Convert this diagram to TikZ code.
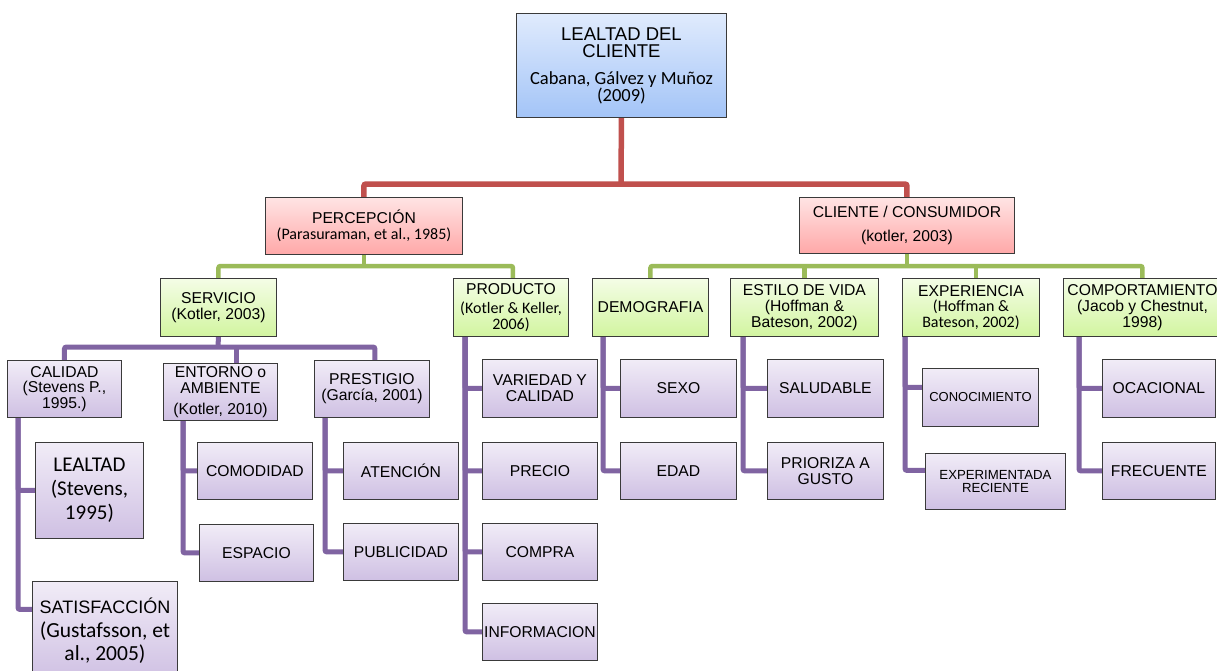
\documentclass[tikz,border=0pt]{standalone}
\usepackage{fontspec}
\setmainfont{Liberation Sans}
\newfontfamily\calib{Carlito}
\pgfdeclarelayer{bg}
\pgfsetlayers{bg,main}
\definecolor{bord}{HTML}{3A3A3A}
\definecolor{bluT}{HTML}{E0EBFD}
\definecolor{bluB}{HTML}{A3C4F7}
\definecolor{pinkT}{HTML}{FFE4E4}
\definecolor{pinkB}{HTML}{FFA8A8}
\definecolor{grnT}{HTML}{F4FDE6}
\definecolor{grnB}{HTML}{D2F5A0}
\definecolor{purT}{HTML}{F1ECF7}
\definecolor{purB}{HTML}{CFC0E3}
\definecolor{lred}{HTML}{C0504D}
\definecolor{lgrn}{HTML}{9BBB59}
\definecolor{lpur}{HTML}{8064A2}
\tikzset{
  bx/.style={draw=bord, line width=0.9pt, anchor=north west, inner sep=0pt, align=center,
    font=\fontsize{15.7}{15.7}\selectfont},
  bluebox/.style={bx, top color=bluT, bottom color=bluB},
  redbox/.style={bx, top color=pinkT, bottom color=pinkB},
  grnbox/.style={bx, top color=grnT, bottom color=grnB},
  purbox/.style={bx, top color=purT, bottom color=purB},
  redl/.style={draw=lred, line width=5.5pt, rounded corners=2pt},
  grnl/.style={draw=lgrn, line width=4.5pt, rounded corners=2pt},
  purl/.style={draw=lpur, line width=5pt, rounded corners=2pt},
}
\newcommand\cit[1]{{\calib\fontsize{16}{16}\selectfont #1}}
\begin{document}
\begin{tikzpicture}[x=1pt,y=-1pt]
\useasboundingbox (0,0) rectangle (1217,670);

% level 0
\node[bluebox, minimum width=210, minimum height=104, font=\fontsize{18.5}{17}\selectfont] (root) at (516,13)
  {LEALTAD DEL\\CLIENTE\\[10pt]{\calib\fontsize{18.5}{19}\selectfont Cabana, Gálvez y Muñoz}\\{\calib\fontsize{18.5}{19}\selectfont (2009)}};

% level 1
\node[redbox, minimum width=197, minimum height=57] (perc) at (265,197)
  {PERCEPCIÓN\\\cit{(Parasuraman, et al., 1985)}};
\node[redbox, minimum width=215, minimum height=56] (cli) at (799,197)
  {CLIENTE / CONSUMIDOR\\[9pt](kotler, 2003)};

% level 2
\node[grnbox, minimum width=116, minimum height=58] (serv) at (160,278) {SERVICIO\\(Kotler, 2003)};
\node[grnbox, minimum width=115, minimum height=58] (prod) at (453,278)
  {PRODUCTO\\[3pt]\cit{(Kotler \& Keller,}\\\cit{2006)}};
\node[grnbox, minimum width=116, minimum height=58] (demo) at (592,278) {DEMOGRAFIA};
\node[grnbox, minimum width=148, minimum height=58] (est) at (730,278) {ESTILO DE VIDA\\(Hoffman \&\\Bateson, 2002)};
\node[grnbox, minimum width=137, minimum height=58] (exp) at (902,278)
  {EXPERIENCIA\\\cit{(Hoffman \&}\\\cit{Bateson, 2002)}};
\node[grnbox, minimum width=158, minimum height=58] (comp) at (1063,278) {COMPORTAMIENTO\\(Jacob y Chestnut,\\1998)};

% level 3 - servicio
\node[purbox, minimum width=114, minimum height=57] (cal) at (7,360) {CALIDAD\\(Stevens P.,\\1995.)};
\node[purbox, minimum width=114, minimum height=57] (ent) at (163,363) {ENTORNO o\\AMBIENTE\\[5pt](Kotler, 2010)};
\node[purbox, minimum width=115, minimum height=57] (pres) at (314,360) {PRESTIGIO\\(García, 2001)};

\node[purbox, minimum width=108, minimum height=96, font=\calib\fontsize{21}{24}\selectfont] (lea) at (35,442)
  {LEALTAD\\(Stevens,\\1995)};
\node[purbox, minimum width=145, minimum height=99, font=\calib\fontsize{21.5}{23.5}\selectfont] (sat) at (32,581)
  {{\fontspec{Liberation Sans}\fontsize{18}{23.5}\selectfont SATISFACCIÓN}\\(Gustafsson, et\\al., 2005)};
\node[purbox, minimum width=115, minimum height=57] (com) at (197,442) {COMODIDAD};
\node[purbox, minimum width=114, minimum height=57] (esp) at (199,524) {ESPACIO};
\node[purbox, minimum width=115, minimum height=57] (ate) at (343,442) {ATENCIÓN};
\node[purbox, minimum width=115, minimum height=57] (pub) at (343,523) {PUBLICIDAD};

% producto
\node[purbox, minimum width=115, minimum height=58] (var) at (482,359) {VARIEDAD Y\\CALIDAD};
\node[purbox, minimum width=115, minimum height=57] (pre) at (482,442) {PRECIO};
\node[purbox, minimum width=115, minimum height=57] (cmp) at (482,523) {COMPRA};
\node[purbox, minimum width=115, minimum height=57] (inf) at (482,603) {INFORMACION};

% cliente children
\node[purbox, minimum width=116, minimum height=58] (sex) at (620,359) {SEXO};
\node[purbox, minimum width=116, minimum height=57] (eda) at (620,442) {EDAD};
\node[purbox, minimum width=116, minimum height=58] (sal) at (767,359) {SALUDABLE};
\node[purbox, minimum width=116, minimum height=57] (pri) at (767,442) {PRIORIZA A\\GUSTO};
\node[purbox, minimum width=116, minimum height=58, font=\fontsize{13}{13}\selectfont] (con) at (922,368) {CONOCIMIENTO};
\node[purbox, minimum width=140, minimum height=56, font=\fontsize{13.2}{13}\selectfont] (expr) at (925,453) {EXPERIMENTADA\\RECIENTE};
\node[purbox, minimum width=113, minimum height=58] (oca) at (1102,359) {OCACIONAL};
\node[purbox, minimum width=113, minimum height=57] (fre) at (1102,442) {FRECUENTE};

\begin{pgfonlayer}{bg}
\fill[white] (0,0) rectangle (1217,670);
% red
\coordinate (rb) at (621,184);
\draw[redl] (root.south) -- (rb);
\draw[redl] (perc.north) |- (rb) -| (cli.north);
% green left
\coordinate (gb1) at (364,266);
\draw[grnl] (perc.south) -- (perc.south |- gb1);
\draw[grnl] (serv.north) |- (gb1) -| ([xshift=2]prod.north);
% green right
\coordinate (gb2) at (905,266);
\draw[grnl] (cli.south) -- (cli.south |- gb2);
\draw[grnl] (demo.north) |- (gb2) -| (comp.north);
\draw[grnl] (est.north) -- (est.north |- gb2);
\draw[grnl] ([xshift=5]exp.north) -- ([xshift=5]exp.north |- gb2);
% purple under servicio
\coordinate (pb) at (218,347);
\draw[purl] (serv.south) -- (pb);
\draw[purl] (cal.north) |- (pb) -| ([xshift=3]pres.north);
\draw[purl] ([xshift=16]ent.north) -- ([xshift=16]ent.north |- pb);
% children
\draw[purl] ([xshift=11]cal.south west) |- (lea.west);
\draw[purl] ([xshift=11]cal.south west) |- ([yshift=21.5]sat.west);
\draw[purl] ([xshift=20]ent.south west) |- (com.west);
\draw[purl] ([xshift=20]ent.south west) |- (esp.west);
\draw[purl] ([xshift=11]pres.south west) |- (ate.west);
\draw[purl] ([xshift=11]pres.south west) |- (pub.west);
\draw[purl] ([xshift=12]prod.south west) |- (var.west);
\draw[purl] ([xshift=12]prod.south west) |- (pre.west);
\draw[purl] ([xshift=12]prod.south west) |- (cmp.west);
\draw[purl] ([xshift=12]prod.south west) |- (inf.west);
\draw[purl] ([xshift=11]demo.south west) |- (sex.west);
\draw[purl] ([xshift=11]demo.south west) |- (eda.west);
\draw[purl] ([xshift=13]est.south west) |- (sal.west);
\draw[purl] ([xshift=13]est.south west) |- (pri.west);
\draw[purl] ([xshift=3]exp.south west) |- ([yshift=10]con.west);
\draw[purl] ([xshift=3]exp.south west) |- ([yshift=11]expr.west);
\draw[purl] ([xshift=16]comp.south west) |- (oca.west);
\draw[purl] ([xshift=16]comp.south west) |- (fre.west);
\end{pgfonlayer}
\end{tikzpicture}
\end{document}
